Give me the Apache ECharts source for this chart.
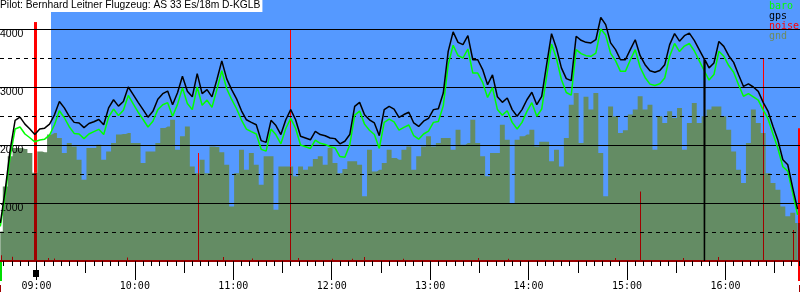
<!DOCTYPE html>
<html><head><meta charset="utf-8">
<script src="https://cdn.jsdelivr.net/npm/echarts@6/dist/echarts.min.js"></script>
<style>html,body{margin:0;padding:0;background:#fff;overflow:hidden;width:800px;height:300px}
#c{position:absolute;left:-62px;top:0;width:862px;height:300px}</style>
</head><body><div id="c"></div><script>
const titleText = 'Pilot: Bernhard Leitner Flugzeug: AS 33 Es/18m D-KGLB';
const seriesNames = ['baro', 'gps', 'noise', 'gnd'];
// sample times: minutes after midnight, every 3 minutes from 08:38
const startMin = 518, stepMin = 3;
const gps = [
 655,1230,1920,2425,2480,2360,2275,2180,2275,2290,
 2360,2520,2750,2640,2495,2390,2380,2300,2370,2400,
 2440,2350,2640,2780,2670,2750,3000,2870,2735,2610,
 2480,2580,2790,2885,2930,2695,2900,3185,2925,2830,
 3230,2885,2955,2830,3125,3450,3140,2955,2795,2590,
 2435,2390,2350,2075,2045,2425,2335,2180,2435,2610,
 2435,2150,2120,2090,2235,2180,2160,2120,2110,2020,
 2065,2180,2665,2735,2520,2435,2380,2160,2610,2665,
 2620,2475,2525,2565,2380,2320,2410,2460,2610,2625,
 2895,3615,3950,3770,3730,3885,3470,3470,3300,3040,
 3210,2830,2735,2810,2610,2495,2610,2780,2910,2695,
 2840,3385,3920,3670,3330,3145,3110,3875,3805,3770,
 3760,3815,4200,4075,3760,3645,3470,3470,3645,3815,
 3540,3385,3280,3255,3285,3385,3730,3920,3790,3885,
 3930,3805,3645,3485,3330,3415,3785,3700,3540,3425,
 3210,3010,3055,3000,2925,2735,2580,2320,2080,1745,
 1660,1260,895];
const baro = [
 595,1145,1805,2275,2310,2190,2125,2055,2085,2100,
 2170,2350,2590,2470,2315,2200,2190,2110,2190,2230,
 2270,2180,2480,2620,2510,2600,2855,2710,2565,2440,
 2310,2410,2610,2695,2730,2495,2700,2985,2715,2610,
 3000,2685,2775,2650,2955,3280,2970,2785,2625,2430,
 2275,2230,2190,1925,1895,2275,2175,2020,2285,2460,
 2285,2000,1970,1940,2085,2030,2010,1970,1950,1800,
 1790,2000,2515,2585,2360,2255,2180,1940,2390,2445,
 2400,2255,2305,2345,2160,2100,2190,2240,2390,2405,
 2675,3385,3720,3540,3500,3655,3240,3240,3080,2820,
 2990,2610,2515,2590,2390,2275,2390,2580,2730,2495,
 2620,3185,3740,3490,3130,2905,2860,3645,3575,3540,
 3530,3585,4000,3895,3580,3455,3270,3270,3465,3645,
 3340,3165,3050,3025,3055,3155,3530,3750,3610,3705,
 3750,3625,3455,3285,3120,3215,3615,3530,3370,3255,
 3040,2840,2885,2830,2775,2605,2450,2190,1940,1625,
 1550,1170,795];
const gnd = [
 510,1285,1805,1950,1950,1930,1860,1520,1890,1875,
 2180,2205,2120,1860,2035,1975,1745,1400,1950,1950,
 2005,1745,1890,2035,2180,2190,2205,2035,2035,1690,
 1890,1890,2035,2295,2320,2435,1920,2150,2320,1630,
 1515,1745,1515,1975,1965,1875,1660,940,1515,1920,
 1575,1860,1660,1315,1805,1805,885,1630,1630,1630,
 1460,1630,1575,1630,1760,1805,1660,1950,1690,1515,
 1585,1720,1720,1660,1115,1920,1545,1575,1690,1920,
 1775,1745,1920,1975,1575,1805,1975,2150,1975,2035,
 2120,2120,1920,2265,2005,2035,2435,2035,1805,1460,
 1860,1860,2350,2090,1000,2090,2150,2180,2265,1975,
 2055,2055,1720,1920,1630,2120,2695,2895,2035,2830,
 2610,2895,1860,1115,2665,2495,2205,2255,2525,2610,
 2840,2610,2695,1920,2495,2380,2580,2465,2640,1920,
 2380,2725,2380,2495,2610,2665,2665,2495,2265,1890,
 1575,1345,2035,2610,2380,2205,1515,1345,1230,940,
 770,830,655];
// GPS dropout samples [time, ft]
const gpsDropouts = [[947.2, 0], [947.5, 3470]];
// noise events [start min, end min, ft]
const noiseEvents = [
 [518.1,518.7,100],[525.3,525.9,75],[538.4,540.4,4120],[547.0,547.6,50],[550.7,551.3,45],
 [595.2,595.8,60],[638.6,639.2,1860],[653.7,654.3,70],[671.4,672.0,45],[694.5,695.1,4000],
 [699.4,700.0,50],[720.1,720.7,40],[732.3,732.9,40],[739.6,740.2,70],[763.4,764.0,40],
 [809.1,809.7,50],[827.4,828.0,40],[892.6,893.2,50],[907.9,908.5,1200],[934.1,934.7,50],
 [955.4,956.0,70],[982.9,983.5,3500],[1001.3,1001.9,535],[1004.1,1006.0,2290]];
const skySpan = [549.1, 1006];      // blue background period
const trackStart = 518.06, trackEnd = 1004.1, releaseTime = 540;

const shift = 62; // chart canvas starts 62px left of the page (axis begins at 08:00)
const times = gps.map((_, i) => startMin + i * stepMin);
const gpsData = times.map((t, i) => [t, gps[i]]).concat(gpsDropouts).sort((a, b) => a[0] - b[0]);
const baroData = times.map((t, i) => [t, baro[i]]);
const gndData = times.map((t, i) => [t, gnd[i]]);
function groundAt(t) {
  let i = Math.round((t - startMin) / stepMin);
  i = Math.max(0, Math.min(gnd.length - 1, i));
  return gnd[i];
}
const pad = n => (n < 10 ? '0' : '') + n;
const fmt = v => pad(Math.floor(v / 60)) + ':' + pad(Math.round(v % 60));

const chart = echarts.init(document.getElementById('c'), null, {renderer: 'canvas'});
const xBase = {type: 'value', gridIndex: 0, min: 480, max: 1005.45, position: 'bottom', z: 3,
  splitLine: {show: false}, axisLabel: {show: false}, axisLine: {show: false}};
chart.setOption({
  animation: false,
  backgroundColor: '#fff',
  title: {text: titleText, left: shift, top: 0, padding: [0, 2, 1, 0], backgroundColor: '#fff', z: 10,
    textStyle: {fontFamily: 'Liberation Sans', fontSize: 10.3, fontWeight: 'normal', color: '#000', lineHeight: 11}},
  legend: {orient: 'vertical', left: shift + 764, top: 1, itemGap: 0, itemWidth: 0, itemHeight: 10, padding: 0,
    selectedMode: false, icon: 'none', z: 10,
    textStyle: {fontFamily: 'DejaVu Sans Mono', fontSize: 10, lineHeight: 10, padding: 0},
    data: [{name: seriesNames[0], textStyle: {color: '#00ff00'}}, {name: seriesNames[1], textStyle: {color: '#000'}},
           {name: seriesNames[2], textStyle: {color: '#ff0000'}}, {name: seriesNames[3], textStyle: {color: '#6e8a60'}}]},
  grid: [
    {left: 0, right: 0, top: 0, bottom: 39},
    {left: shift, right: 0, top: 0, bottom: 39}
  ],
  xAxis: [
    Object.assign({}, xBase, {interval: 30, axisLine: {show: true, lineStyle: {color: '#990000', width: 2}},
      axisTick: {length: 12, lineStyle: {color: '#000'}},
      minorTick: {show: true, splitNumber: 6, length: 5, lineStyle: {color: '#000', width: 1}}}),
    Object.assign({}, xBase, {interval: 60, axisTick: {length: 19, lineStyle: {color: '#000'}},
      axisLabel: {show: true, margin: 20, formatter: fmt, showMinLabel: false, showMaxLabel: false,
        fontFamily: 'DejaVu Sans Mono', fontSize: 10, color: '#000', verticalAlign: 'top'}}),
    {type: 'value', gridIndex: 1, show: false, min: 0, max: 1}
  ],
  yAxis: [
    {type: 'value', gridIndex: 0, min: 0, max: 4500, show: false},
    {type: 'value', gridIndex: 1, min: 0, max: 4500, interval: 1000, position: 'left', z: 3,
      axisLine: {show: false}, axisTick: {show: false},
      splitLine: {show: true, showMinLine: false, showMaxLine: false, lineStyle: {color: '#000', width: 1}},
      axisLabel: {inside: true, margin: 0, showMinLabel: false, showMaxLabel: false, verticalAlign: 'top',
        formatter: v => String(v), fontFamily: 'Liberation Sans', fontSize: 10.5, color: '#000'}},
    {type: 'value', gridIndex: 1, min: 0, max: 4500, interval: 500, position: 'left', z: 2.5,
      axisLine: {show: false}, axisTick: {show: false}, axisLabel: {show: false},
      splitLine: {show: true, showMinLine: false, showMaxLine: false, lineStyle: {color: '#000', width: 1, type: [4, 4]}}}
  ],
  series: [
    {type: 'custom', name: 'sky', xAxisIndex: 0, yAxisIndex: 0, z: 0, silent: true, data: [skySpan],
      renderItem: (p, api) => {
        const a = api.coord([api.value(0), 4500]), b = api.coord([api.value(1), 0]);
        return {type: 'rect', shape: {x: Math.round(a[0]), y: a[1], width: b[0] - a[0], height: b[1] - a[1]},
          style: {fill: '#5599ff'}};
      }},
    {type: 'line', name: seriesNames[3], xAxisIndex: 0, yAxisIndex: 0, z: 1, step: 'middle', symbol: 'none',
      data: gndData, lineStyle: {width: 0, color: '#648c64'}, itemStyle: {color: '#648c64'},
      areaStyle: {color: '#648c64', opacity: 1}},
    {type: 'custom', name: seriesNames[2], xAxisIndex: 0, yAxisIndex: 0, z: 2, data: noiseEvents,
      itemStyle: {color: '#ff0000'},
      renderItem: (p, api) => {
        const t0 = api.value(0), t1 = api.value(1), v = api.value(2);
        const g = groundAt((t0 + t1) / 2);
        const base = api.coord([t0, 0]);
        const x = Math.round(base[0]);
        const w = Math.max(1, Math.round(api.coord([t1, 0])[0]) - x);
        const yg = api.coord([t0, Math.min(v, g)])[1];
        const top = api.coord([t0, v])[1];
        const kids = [{type: 'rect', shape: {x: x, y: yg, width: w, height: base[1] - yg}, style: {fill: '#a00000'}}];
        if (v > g) kids.push({type: 'rect', shape: {x: x, y: top, width: w, height: yg - top}, style: {fill: '#ff0000'}});
        return {type: 'group', children: kids};
      }},
    {type: 'line', name: seriesNames[0], xAxisIndex: 0, yAxisIndex: 0, z: 4, symbol: 'none', data: baroData,
      lineStyle: {color: '#00ff00', width: 1.5}, itemStyle: {color: '#00ff00'}},
    {type: 'line', name: seriesNames[1], xAxisIndex: 0, yAxisIndex: 0, z: 5, symbol: 'none', data: gpsData,
      lineStyle: {color: '#000', width: 1.5}, itemStyle: {color: '#000'}}
  ]
});
const px = t => chart.convertToPixel({xAxisIndex: 0}, t);
const y0 = chart.convertToPixel({yAxisIndex: 0}, 0);
const xs = px(trackStart), xe = px(trackEnd), xr = px(releaseTime);
chart.setOption({graphic: [
  {type: 'rect', silent: true, shape: {x: Math.round(xs), y: y0 + 1, width: 2, height: 19}, style: {fill: '#00dd00'}},
  {type: 'rect', silent: true, shape: {x: Math.round(xs), y: y0 + 24, width: 1, height: 7}, style: {fill: '#a00000'}},
  {type: 'rect', silent: true, shape: {x: Math.round(xe), y: y0, width: 3, height: 20}, style: {fill: '#ff0000'}},
  {type: 'rect', silent: true, shape: {x: Math.round(xe) + 1, y: y0 + 24, width: 2, height: 7}, style: {fill: '#a00000'}},
  {type: 'rect', silent: true, shape: {x: Math.round(xr) - 3, y: y0 + 9, width: 6, height: 7}, style: {fill: '#000'}}
]});
</script></body></html>
